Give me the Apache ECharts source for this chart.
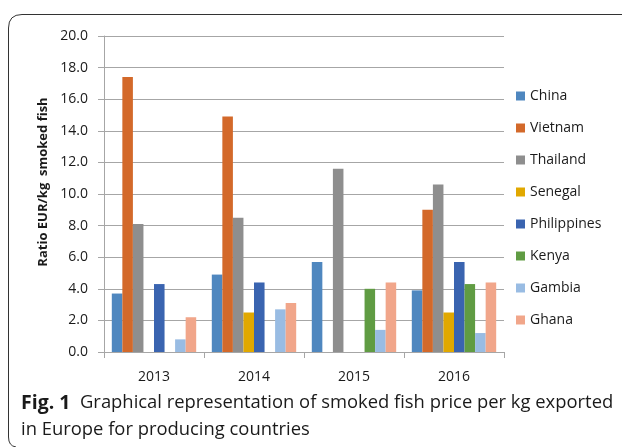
<!DOCTYPE html>
<html><head><meta charset="utf-8">
<script src="https://cdn.jsdelivr.net/npm/echarts@6/dist/echarts.min.js"></script>
<style>html,body{margin:0;padding:0;background:#fff}#c{width:622px;height:447px}</style>
</head><body><div id="c"></div>
<script>
const years = ['2013', '2014', '2015', '2016'];
const countries = ['China', 'Vietnam', 'Thailand', 'Senegal', 'Philippines', 'Kenya', 'Gambia', 'Ghana'];
const china = [3.7, 4.9, 5.7, 3.9];
const vietnam = [17.4, 14.9, null, 9.0];
const thailand = [8.1, 8.5, 11.6, 10.6];
const senegal = [null, 2.5, null, 2.5];
const philippines = [4.3, 4.4, null, 5.7];
const kenya = [null, null, 4.0, 4.3];
const gambia = [0.8, 2.7, 1.4, 1.2];
const ghana = [2.2, 3.1, 4.4, 4.4];
const yTicks = ['0.0', '2.0', '4.0', '6.0', '8.0', '10.0', '12.0', '14.0', '16.0', '18.0', '20.0'];
const colors = ['#4F87BF', '#D3692A', '#8E8E8E', '#E1A800', '#3A64B0', '#609C43', '#99BCE3', '#F1A68A'];
const values = [china, vietnam, thailand, senegal, philippines, kenya, gambia, ghana];

const chart = echarts.init(document.getElementById('c'), null, {renderer: 'canvas'});
const font = 'Open Sans';
const border = {fill: null, stroke: '#333', lineWidth: 1};
chart.setOption({
  animation: false,
  color: colors,
  grid: {left: 104, right: 118, top: 36, bottom: 95},
  legend: {
    orient: 'vertical', left: 511, top: 84,
    itemWidth: 9, itemHeight: 9, itemGap: 18,
    icon: 'rect',
    textStyle: {fontFamily: font, fontSize: 14, color: '#1a1a1a'},
    data: countries
  },
  xAxis: {
    type: 'category', data: years,
    axisLine: {lineStyle: {color: '#a6a6a6'}},
    axisTick: {show: true, length: 6, lineStyle: {color: '#a6a6a6'}},
    axisLabel: {fontFamily: font, fontSize: 14, color: '#1a1a1a', margin: 18}
  },
  yAxis: {
    type: 'value', min: 0, max: 20, interval: 2,
    name: 'Ratio EUR/kg  smoked fish', nameLocation: 'middle', nameGap: 51, nameRotate: 90,
    nameTextStyle: {fontFamily: font, fontSize: 13, fontWeight: 'bold', color: '#1a1a1a', padding: [0, 0, 0, 24]},
    axisLine: {show: true, lineStyle: {color: '#a6a6a6'}},
    axisTick: {show: true, length: 6, lineStyle: {color: '#a6a6a6'}},
    splitLine: {lineStyle: {color: '#a6a6a6'}},
    axisLabel: {fontFamily: font, fontSize: 14, color: '#1a1a1a', margin: 16,
      formatter: v => yTicks[Math.round(v / 2)]}
  },
  series: countries.map((n, i) => ({
    name: n, type: 'bar', data: values[i],
    barGap: '0%', barCategoryGap: '15.6%'
  })),
  graphic: [
    {type: 'line', shape: {x1: 22, y1: 14.5, x2: 622, y2: 14.5}, style: border, silent: true},
    {type: 'bezierCurve', shape: {x1: 8.5, y1: 28, cpx1: 8.5, cpy1: 14.5, x2: 22, y2: 14.5}, style: border, silent: true},
    {type: 'line', shape: {x1: 8.5, y1: 28, x2: 8.5, y2: 437}, style: border, silent: true},
    {type: 'bezierCurve', shape: {x1: 8.5, y1: 437, cpx1: 8.5, cpy1: 446, x2: 16, y2: 447}, style: border, silent: true},
    {type: 'text', left: 21, top: 393, silent: true,
     style: {text: '{b|Fig. 1}  Graphical representation of smoked fish price per kg exported', font: '18.4px "Open Sans"', fill: '#1a1a1a',
       rich: {b: {fontWeight: 'bold', fontFamily: font, fontSize: 19.5, fill: '#1a1a1a'}}}},
    {type: 'text', left: 21, top: 421, silent: true,
     style: {text: 'in Europe for producing countries', font: '18.4px "Open Sans"', fill: '#1a1a1a'}}
  ]
});
</script></body></html>
